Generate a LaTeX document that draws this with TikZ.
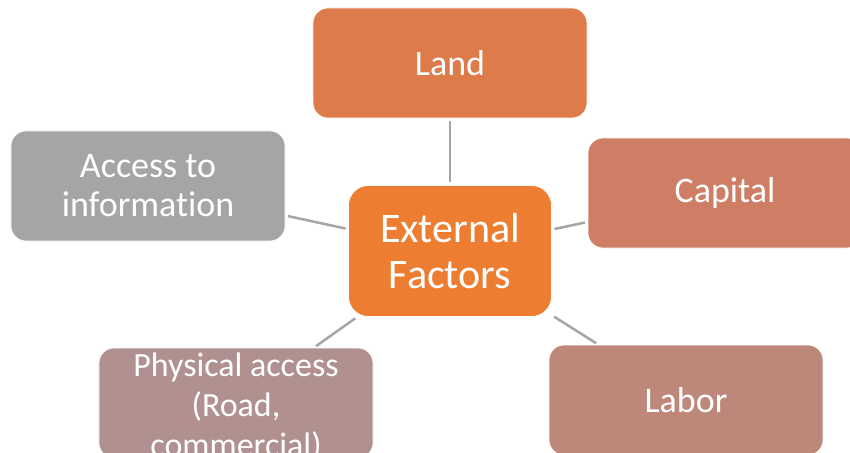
\documentclass[tikz,border=0pt]{standalone}
\usepackage{fontspec}
\setmainfont{Carlito}[Ligatures=NoCommon]

\definecolor{corecol}{RGB}{237,125,49}
\definecolor{landcol}{RGB}{221,123,74}
\definecolor{capcol}{RGB}{205,126,100}
\definecolor{laborcol}{RGB}{189,135,122}
\definecolor{physcol}{RGB}{176,145,143}
\definecolor{infocol}{RGB}{165,165,165}
\definecolor{linkcol}{RGB}{165,165,165}

\begin{document}
\begin{tikzpicture}[x=0.03cm,y=-0.03cm,
  box/.style={rounded corners=0.45cm,draw=white,line width=0.6pt,
    minimum width=8.22cm,minimum height=3.3cm,inner sep=0pt,
    text=white,align=center,font=\fontsize{30.7}{33.3}\selectfont},
  boxtext/.style={text=white,align=center,inner sep=0pt},
  link/.style={draw=linkcol,line width=0.075cm,shorten >=0.08cm,shorten <=0.08cm}]
  \useasboundingbox (0,0) rectangle (850,452);
  \clip (0,0) rectangle (850,452);

  % centre
  \node[box,fill=corecol,minimum width=6.09cm,minimum height=3.93cm,
    rounded corners=0.6cm,font=\fontsize{35.9}{40}\selectfont]
    (core) at (450,251) {External\\Factors};

  % outer boxes
  \node[box,fill=landcol] (land) at (450,63) {Land};
  \node[box,fill=capcol] (capital) at (725,193) {Capital};
  \node[box,fill=laborcol] (labor) at (686,400) {Labor};
  \node[box,fill=infocol] (info) at (148,186) {Access to\\information};
  \node[box,fill=physcol] (phys) at (236,403) {};
  \node[boxtext,font=\fontsize{29}{34}\selectfont] (physlabel) at (236,407)
    {Physical access\\(Road,\\commercial)};

  % connectors
  \draw[link] (core) -- (land);
  \draw[link] (core) -- (capital);
  \draw[link] (core) -- (labor);
  \draw[link] (core) -- (info);
  \draw[link] (core) -- (phys);
\end{tikzpicture}
\end{document}
